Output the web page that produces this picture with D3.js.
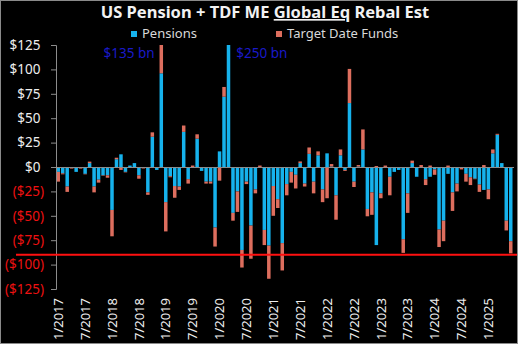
<!DOCTYPE html>
<html><head><meta charset="utf-8">
<script src="https://cdn.jsdelivr.net/npm/d3@7"></script>
<style>html,body{margin:0;padding:0;background:#000;}svg{display:block;}</style>
</head><body>
<svg id="c" width="518" height="344"></svg>
<script>
// ---- data ----
const firstMonth = [2017, 1]; // year, month of first bar
const seriesNames = ["Pensions", "Target Date Funds"];
const pensions = [
  -5, -6.5, -20, -0.3, -5, -0.3, -7, 4, -20, -13, -8.5, -8.5,
  -44, 8, 13, -5, 1.5, 4, -8.5, -0.5, -26, 31, -3, 96,
  -36, -9.5, -19.5, -20, 36, -12.5, 0, 29, -4, -15, -15, -62,
  16, 72, 250, -47, -25, -85, -15, -60, -23, 0, -64.5, -80.5,
  -19.5, -33, -78, -17.5, -5, -8, 4, -17, 13.5, -15, 12, -23,
  14, 0.5, -29, 12, -3, 65.5, -15, 0.5, 18, -43, -26, -80,
  -27, 0, -10, -5, -3, -74, -27, 4, -10, 0, -12.5, -10,
  -2.5, -64, -55, -7, -26, -17, -0.5, -7, -10.5, -12, -18, -23.5,
  -23, 14, 33, 4, -55, -76
];
const tdf = [
  -10, -1, -5.5, -1.3, 0, -1.3, -0.5, 1.5, -6, -3, -0.5, -2.5,
  -27, 1.5, -3, -0.5, 0, 0, -3.5, -1, -2.5, 4.5, 0, 39,
  -30, -1, -12, -3.5, 6.5, -4.5, 1.5, 4.5, 0, -2, -2, -19.5,
  -14, 10, 0, -8, -21, -18, -2.5, -34, -4, 1.5, -15.5, -34,
  -30.5, -9, -28, -11.5, -11, -14, 1.7, -3, 6.5, -12, 4, -13,
  -32, 2.5, -25, 6, -1, 35, -5.5, 1.5, 20.5, -7.5, -23, 1,
  -5, 1.5, -19, 0, 0, -14, -20, 2.5, 0, 2, -6, 1.5,
  -5.5, -18, -21, 1.5, -19, -8, -2, -8, -8, -0.5, -7.5, 2,
  -10, 4, 1, 0, -10, -12.5
];
const tickLabels = ["1/2017","7/2017","1/2018","7/2018","1/2019","7/2019","1/2020","7/2020",
  "1/2021","7/2021","1/2022","7/2022","1/2023","7/2023","1/2024","7/2024","1/2025"];
const yTicks = [125, 100, 75, 50, 25, 0, -25, -50, -75, -100, -125];
const thresholdValue = -90;
const annotations = [
  {label: "$135 bn", month: "12/2018", side: "left"},
  {label: "$250 bn", month: "3/2020", side: "right"}
];
const titleParts = ["US Pension + TDF ME ", "Global Eq", " Rebal Est"];

// ---- build ----
const months = pensions.map((_, i) => {
  const m0 = firstMonth[1] - 1 + i;
  return `${(m0 % 12) + 1}/${firstMonth[0] + Math.floor(m0 / 12)}`;
});
const rows = months.map((m, i) => ({month: m, Pensions: pensions[i], "Target Date Funds": tdf[i]}));
const stacked = d3.stack().keys(seriesNames).offset(d3.stackOffsetDiverging)(rows);

const colors = {"Pensions": "#16b2ec", "Target Date Funds": "#dd6e5e"};
const font = "'Noto Sans', 'Open Sans', sans-serif";

const svg = d3.select("#c");
svg.append("rect").attr("x", 0).attr("y", 0).attr("width", 518).attr("height", 344).attr("fill", "#000");

const plot = {left: 56, right: 513, top: 45, bottom: 289};
const x = d3.scaleBand().domain(months).range([plot.left, plot.right]).paddingInner(0.22).paddingOuter(0.11);
const y = d3.scaleLinear().domain([-125, 125]).range([plot.bottom, plot.top]);

svg.append("clipPath").attr("id", "clip").append("rect")
  .attr("x", plot.left).attr("y", plot.top).attr("width", plot.right - plot.left + 2).attr("height", plot.bottom - plot.top);

// bars
const gBars = svg.append("g").attr("clip-path", "url(#clip)");
gBars.selectAll("g").data(stacked).join("g")
  .attr("fill", d => colors[d.key])
  .selectAll("rect").data(d => d).join("rect")
  .attr("x", d => x(d.data.month))
  .attr("width", x.bandwidth())
  .attr("y", d => y(Math.max(d[0], d[1])))
  .attr("height", d => Math.abs(y(d[0]) - y(d[1])));

// zero line (category axis)
svg.append("line").attr("x1", plot.left).attr("x2", plot.right + 1)
  .attr("y1", Math.round(y(0)) + 0.5).attr("y2", Math.round(y(0)) + 0.5)
  .attr("stroke", "#8c8c8c").attr("stroke-width", 1);

// y axis
const yAxis = d3.axisLeft(y).tickValues(yTicks).tickSize(5).tickPadding(7)
  .tickFormat(v => v < 0 ? `($${Math.abs(v)})` : `$${v}`);
const gy = svg.append("g").attr("transform", `translate(${plot.left},0)`).call(yAxis);
gy.select(".domain").attr("stroke", "#8c8c8c");
gy.selectAll(".tick line").attr("stroke", "#8c8c8c");
gy.selectAll(".tick text")
  .attr("font-family", font).attr("font-size", 13.5)
  .attr("fill", v => v < 0 ? "#ee1111" : "#eeeeee")
  .attr("dx", v => v < 0 ? 0 : -3.5);

// x axis labels
const xAxis = d3.axisBottom(x).tickValues(tickLabels).tickSize(0);
const gx = svg.append("g").attr("transform", "translate(0,298)").call(xAxis);
gx.select(".domain").remove();
gx.selectAll(".tick text")
  .attr("font-family", font).attr("font-size", 13).attr("fill", "#eeeeee")
  .attr("transform", "rotate(-90)")
  .attr("text-anchor", "end")
  .attr("x", 0).attr("y", 0).attr("dy", "0.36em");

// threshold line
svg.append("line").attr("x1", 16).attr("x2", 518)
  .attr("y1", y(thresholdValue)).attr("y2", y(thresholdValue))
  .attr("stroke", "#ff1010").attr("stroke-width", 2);

// annotations
annotations.forEach(a => {
  const cx = x(a.month);
  svg.append("text")
    .attr("x", a.side === "left" ? cx - 5 : cx + x.bandwidth() + 6)
    .attr("y", 58)
    .attr("text-anchor", a.side === "left" ? "end" : "start")
    .attr("font-family", font).attr("font-size", 13.5)
    .attr("fill", "#1a1ac8")
    .text(a.label);
});

// title
const title = svg.append("text").attr("x", 265).attr("y", 18).attr("text-anchor", "middle")
  .attr("font-family", font).attr("font-size", 16.5).attr("font-weight", "bold").attr("fill", "#f2f2f2");
titleParts.forEach((t, i) => {
  const ts = title.append("tspan").text(t);
  if (i === 1) ts.style("text-decoration", "underline");
});

// legend
const legendItems = [{name: seriesNames[0], x: 131}, {name: seriesNames[1], x: 276}];
legendItems.forEach(l => {
  svg.append("rect").attr("x", l.x).attr("y", 31).attr("width", 6).attr("height", 6).attr("fill", colors[l.name]);
  svg.append("text").attr("x", l.x + 11).attr("y", 37.5)
    .attr("font-family", font).attr("font-size", 13).attr("fill", "#d9d9d9").text(l.name);
});

// border
svg.append("rect").attr("x", 0.5).attr("y", 0.5).attr("width", 517).attr("height", 343)
  .attr("fill", "none").attr("stroke", "#8a8a8a");
</script>
</body></html>
